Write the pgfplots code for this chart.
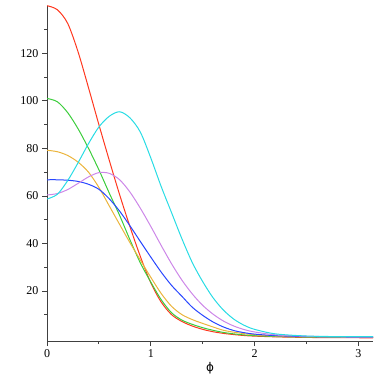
\documentclass[border=0pt]{standalone}
\usepackage{fontspec}
\setmainfont{Liberation Serif}
\newfontfamily\phifont{DejaVu Sans}
\usepackage{pgfplots}
\usepackage{pgfplotstable}
\pgfplotsset{compat=1.18}

% columns: phi, then one curve per colour
\pgfplotstableread{
x      red    green  yellow blue  violet cyan
0      140.0  101.0  79.2   66.8  60.4   58.7
0.1    138.3  99.6   78.6   66.8  61.0   60.7
0.2    132.5  95.0   77.0   66.6  62.7   66.5
0.3    120.5  88.2   74.2   66.1  65.3   74.0
0.4    105.5  80.0   70.0   64.9  68.0   82.0
0.5    90.0   71.0   63.6   62.8  69.8   89.0
0.6    75.0   61.2   55.8   58.8  69.5   93.5
0.7    60.5   51.8   48.0   53.6  66.8   95.4
0.8    47.0   41.5   40.3   47.4  61.6   92.8
0.9    34.5   31.8   33.0   40.8  54.8   86.8
1.0    23.5   23.8   25.8   34.3  47.2   76.0
1.1    15.4   16.4   19.0   28.0  39.2   64.0
1.2    10.1   10.9   13.6   22.4  31.5   53.0
1.3    7.2    7.8    10.1   17.8  24.6   42.0
1.4    5.3    6.0    8.0    13.2  18.8   32.0
1.5    3.9    4.6    6.4    9.8   14.0   24.0
1.6    2.9    3.5    4.9    7.0   10.3   17.2
1.7    2.2    2.6    3.5    4.9   7.4    12.0
1.8    1.7    2.0    2.7    3.4   5.3    8.2
1.9    1.3    1.55   2.1    2.5   3.8    5.6
2.0    1.05   1.25   1.65   1.9   2.8    3.9
2.2    0.75   0.9    1.1    1.25  1.6    2.0
2.5    0.5    0.65   0.75   0.85  1.0    1.1
2.8    0.4    0.55   0.6    0.7   0.8    0.85
3.1416 0.35   0.5    0.55   0.65  0.7    0.8
}\curves

\definecolor{cred}{RGB}{255,55,30}
\definecolor{cgreen}{RGB}{60,205,60}
\definecolor{cyellow}{RGB}{235,180,60}
\definecolor{cblue}{RGB}{40,70,255}
\definecolor{cviolet}{RGB}{205,135,232}
\definecolor{ccyan}{RGB}{40,220,228}

\begin{document}
\begin{tikzpicture}
\useasboundingbox (0,0) rectangle (382pt,382pt);
\begin{axis}[
    at={(47pt,41pt)}, anchor=south west,
    scale only axis,
    width=326pt, height=335.3pt,
    xmin=0, xmax=3.1416,
    ymin=-1, ymax=140,
    axis lines=left,
    axis line style={-, black!75, line width=0.9pt},
    xtick={0,1,2,3},
    minor xtick={0.5,1.5,2.5},
    ytick={20,40,60,80,100,120},
    minor ytick={10,30,50,70,90,110,130},
    tick align=outside,
    major tick length=5pt,
    minor tick length=3pt,
    tick style={black!75, line width=0.8pt},
    ticklabel style={font=\fontsize{12}{14}\selectfont},
    /pgf/number format/assume math mode=true,
    xlabel={\phifont\fontsize{12}{14}\selectfont ϕ},
    xlabel style={yshift=2pt},
    every axis plot/.append style={smooth, tension=0.5, line width=1pt, no marks},
]
\addplot[cred]    table[x=x, y=red]    {\curves};
\addplot[cgreen]  table[x=x, y=green]  {\curves};
\addplot[cyellow] table[x=x, y=yellow] {\curves};
\addplot[cblue]   table[x=x, y=blue]   {\curves};
\addplot[cviolet] table[x=x, y=violet] {\curves};
\addplot[ccyan]   table[x=x, y=cyan]   {\curves};
\end{axis}
\end{tikzpicture}
\end{document}
